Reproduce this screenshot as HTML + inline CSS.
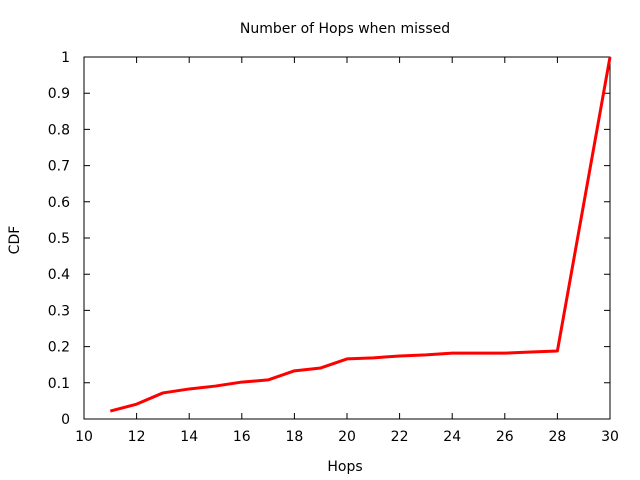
<!DOCTYPE html>
<html><head><meta charset="utf-8"><style>
body{margin:0;background:#fff;}
svg{display:block;font-family:"DejaVu Sans","Liberation Sans",sans-serif;}
</style></head><body>
<svg id="chart" width="640" height="480"></svg>
<script>
const xValues=[11,12,13,14,15,16,17,18,19,20,21,22,23,24,25,26,27,28,30];
const cdfValues=[0.022,0.041,0.072,0.083,0.091,0.102,0.108,0.133,0.141,0.166,0.169,0.174,0.177,0.182,0.182,0.182,0.185,0.188,1.0];
const xTicks=[10,12,14,16,18,20,22,24,26,28,30];
const yTicks=[0,0.1,0.2,0.3,0.4,0.5,0.6,0.7,0.8,0.9,1];
const L=84,R=610,T=57,B=419;
const sx=v=>L+(v-10)/20*(R-L);
const sy=v=>B-v*(B-T);
const NS="http://www.w3.org/2000/svg";
const svg=document.getElementById('chart');
function mk(tag,attrs,parent){const e=document.createElementNS(NS,tag);for(const k in attrs)e.setAttribute(k,attrs[k]);(parent||svg).appendChild(e);return e;}
const frame=mk('rect',{x:L,y:T,width:R-L,height:B-T,fill:'none',stroke:'#000','stroke-width':1});


xTicks.forEach(t=>{
  const x=sx(t);
  const tk=mk('path',{d:`M${x},${B}v-6M${x},${T}v6`,stroke:'#000'});
  
  
  const lb=mk('text',{x:x,y:B+22,'text-anchor':'middle','font-size':14});
  lb.textContent=t;
  
  
});
yTicks.forEach(t=>{
  const y=sy(t);
  const tk=mk('path',{d:`M${L},${y}h6M${R},${y}h-6`,stroke:'#000'});
  
  
  const lb=mk('text',{x:L-14,y:y+5,'text-anchor':'end','font-size':14});
  lb.textContent=t;
  
  
});
const line=mk('polyline',{points:xValues.map((v,i)=>sx(v)+','+sy(cdfValues[i])).join(' '),fill:'none',stroke:'#ff0000','stroke-width':3,'stroke-linejoin':'round'});


const title=mk('text',{x:345,y:33,'text-anchor':'middle','font-size':14});
title.textContent='Number of Hops when missed';


const xt=mk('text',{x:345,y:471,'text-anchor':'middle','font-size':14});
xt.textContent='Hops';


const yt=mk('text',{x:19,y:240,'text-anchor':'middle','font-size':14,transform:'rotate(-90 19 240)'});
yt.textContent='CDF';


</script>
</body></html>
